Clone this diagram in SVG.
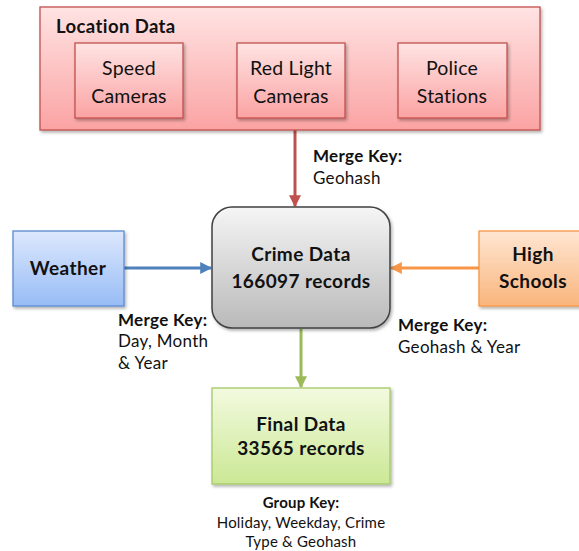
<svg xmlns="http://www.w3.org/2000/svg" width="579" height="551" viewBox="0 0 579 551">
  <defs>
    <linearGradient id="gRed" x1="0" y1="0" x2="0" y2="1">
      <stop offset="0" stop-color="#FFE3E3"/>
      <stop offset="1" stop-color="#FBA3A3"/>
    </linearGradient>
    <linearGradient id="gBlue" x1="0" y1="0" x2="0" y2="1">
      <stop offset="0" stop-color="#DDE8FD"/>
      <stop offset="1" stop-color="#97BCF5"/>
    </linearGradient>
    <linearGradient id="gOrange" x1="0" y1="0" x2="0" y2="1">
      <stop offset="0" stop-color="#FFE6D2"/>
      <stop offset="1" stop-color="#F9B57C"/>
    </linearGradient>
    <linearGradient id="gGreen" x1="0" y1="0" x2="0" y2="1">
      <stop offset="0" stop-color="#F3FADF"/>
      <stop offset="1" stop-color="#CBE895"/>
    </linearGradient>
    <linearGradient id="gGray" x1="0" y1="0" x2="0" y2="1">
      <stop offset="0" stop-color="#F5F5F5"/>
      <stop offset="1" stop-color="#B9B9B9"/>
    </linearGradient>
    <filter id="shadow" x="-10%" y="-10%" width="125%" height="130%">
      <feDropShadow dx="1.5" dy="2" stdDeviation="1.5" flood-color="#000" flood-opacity="0.3"/>
    </filter>
    <marker id="mRed" viewBox="0 0 10 10" refX="9" refY="5" markerWidth="4" markerHeight="4" orient="auto" markerUnits="strokeWidth">
      <path d="M0,0 L10,5 L0,10 z" fill="#C0504D"/>
    </marker>
    <marker id="mBlue" viewBox="0 0 10 10" refX="9" refY="5" markerWidth="4" markerHeight="4" orient="auto" markerUnits="strokeWidth">
      <path d="M0,0 L10,5 L0,10 z" fill="#4F81BD"/>
    </marker>
    <marker id="mOrange" viewBox="0 0 10 10" refX="9" refY="5" markerWidth="4" markerHeight="4" orient="auto" markerUnits="strokeWidth">
      <path d="M0,0 L10,5 L0,10 z" fill="#F79646"/>
    </marker>
    <marker id="mGreen" viewBox="0 0 10 10" refX="9" refY="5" markerWidth="4" markerHeight="4" orient="auto" markerUnits="strokeWidth">
      <path d="M0,0 L10,5 L0,10 z" fill="#9BBB59"/>
    </marker>
  </defs>
  <style>
    text { font-family: Lato, "Open Sans", "Liberation Sans", sans-serif; fill: #111; }
    .title { font-size: 18.5px; font-weight: bold; letter-spacing: 0.4px; }
    .sub { font-size: 19.5px; text-anchor: middle; letter-spacing: 0.2px; }
    .node { font-size: 19px; font-weight: bold; text-anchor: middle; letter-spacing: 0.4px; }
    .key { font-size: 17px; letter-spacing: 0.3px; }
    .keyb { font-size: 17px; font-weight: bold; letter-spacing: 0.3px; }
    .gk { font-size: 15px; text-anchor: middle; letter-spacing: 0.2px; }
    .red { fill: url(#gRed); stroke: #C0504D; stroke-width: 1.3; }
    .blue { fill: url(#gBlue); stroke: #5B8BD0; stroke-width: 1.3; }
    .orange { fill: url(#gOrange); stroke: #F79646; stroke-width: 1.3; }
    .green { fill: url(#gGreen); stroke: #A5C868; stroke-width: 1.3; }
    .gray { fill: url(#gGray); stroke: #404040; stroke-width: 1.5; }
    .edge { fill: none; stroke-width: 3; }
  </style>

  <!-- connectors -->
  <g id="connectors">
    <line class="edge" x1="295" y1="130" x2="295" y2="206" stroke="#C0504D" marker-end="url(#mRed)"/>
    <line class="edge" x1="124" y1="268" x2="211" y2="268" stroke="#4F81BD" marker-end="url(#mBlue)"/>
    <line class="edge" x1="479" y1="268" x2="391" y2="268" stroke="#F79646" marker-end="url(#mOrange)"/>
    <line class="edge" x1="301" y1="329" x2="301" y2="387" stroke="#9BBB59" marker-end="url(#mGreen)"/>
  </g>

  <!-- location data container with its three sources -->
  <g id="location-data">
    <rect class="red" x="40" y="7" width="500" height="123" filter="url(#shadow)"/>
    <text class="title" x="56" y="33">Location Data</text>
  </g>
  <g id="speed-cameras">
    <rect class="red" x="75" y="43" width="108" height="75" filter="url(#shadow)"/>
    <text class="sub" x="129" y="75">Speed</text>
    <text class="sub" x="129" y="103">Cameras</text>
  </g>
  <g id="red-light-cameras">
    <rect class="red" x="237" y="43" width="108" height="75" filter="url(#shadow)"/>
    <text class="sub" x="291" y="75">Red Light</text>
    <text class="sub" x="291" y="103">Cameras</text>
  </g>
  <g id="police-stations">
    <rect class="red" x="398" y="43" width="109" height="75" filter="url(#shadow)"/>
    <text class="sub" x="452" y="75">Police</text>
    <text class="sub" x="452" y="103">Stations</text>
  </g>

  <!-- crime data hub -->
  <g id="crime-data">
    <rect class="gray" x="212" y="207" width="178" height="121" rx="20" ry="20" filter="url(#shadow)"/>
    <text class="node" x="301" y="261">Crime Data</text>
    <text class="node" x="301" y="288">166097 records</text>
  </g>

  <g id="weather">
    <rect class="blue" x="13" y="231" width="111" height="75" filter="url(#shadow)"/>
    <text class="node" x="68" y="275">Weather</text>
  </g>

  <g id="high-schools">
    <rect class="orange" x="479" y="231" width="110" height="75" filter="url(#shadow)"/>
    <text class="node" x="533" y="261">High</text>
    <text class="node" x="533" y="288">Schools</text>
  </g>

  <g id="final-data">
    <rect class="green" x="212" y="388" width="178" height="96" filter="url(#shadow)"/>
    <text class="node" x="301" y="431">Final Data</text>
    <text class="node" x="301" y="455">33565 records</text>
  </g>

  <!-- key labels -->
  <g id="labels">
    <text class="keyb" x="313" y="162">Merge Key:</text>
    <text class="key" x="313" y="184">Geohash</text>
    <text class="keyb" x="118" y="326">Merge Key:</text>
    <text class="key" x="118" y="347">Day, Month</text>
    <text class="key" x="118" y="369">&amp; Year</text>
    <text class="keyb" x="398" y="331">Merge Key:</text>
    <text class="key" x="398" y="353">Geohash &amp; Year</text>
    <text class="gk" x="301" y="508" font-weight="bold">Group Key:</text>
    <text class="gk" x="301" y="528">Holiday, Weekday, Crime</text>
    <text class="gk" x="301" y="547">Type &amp; Geohash</text>
  </g>
</svg>
